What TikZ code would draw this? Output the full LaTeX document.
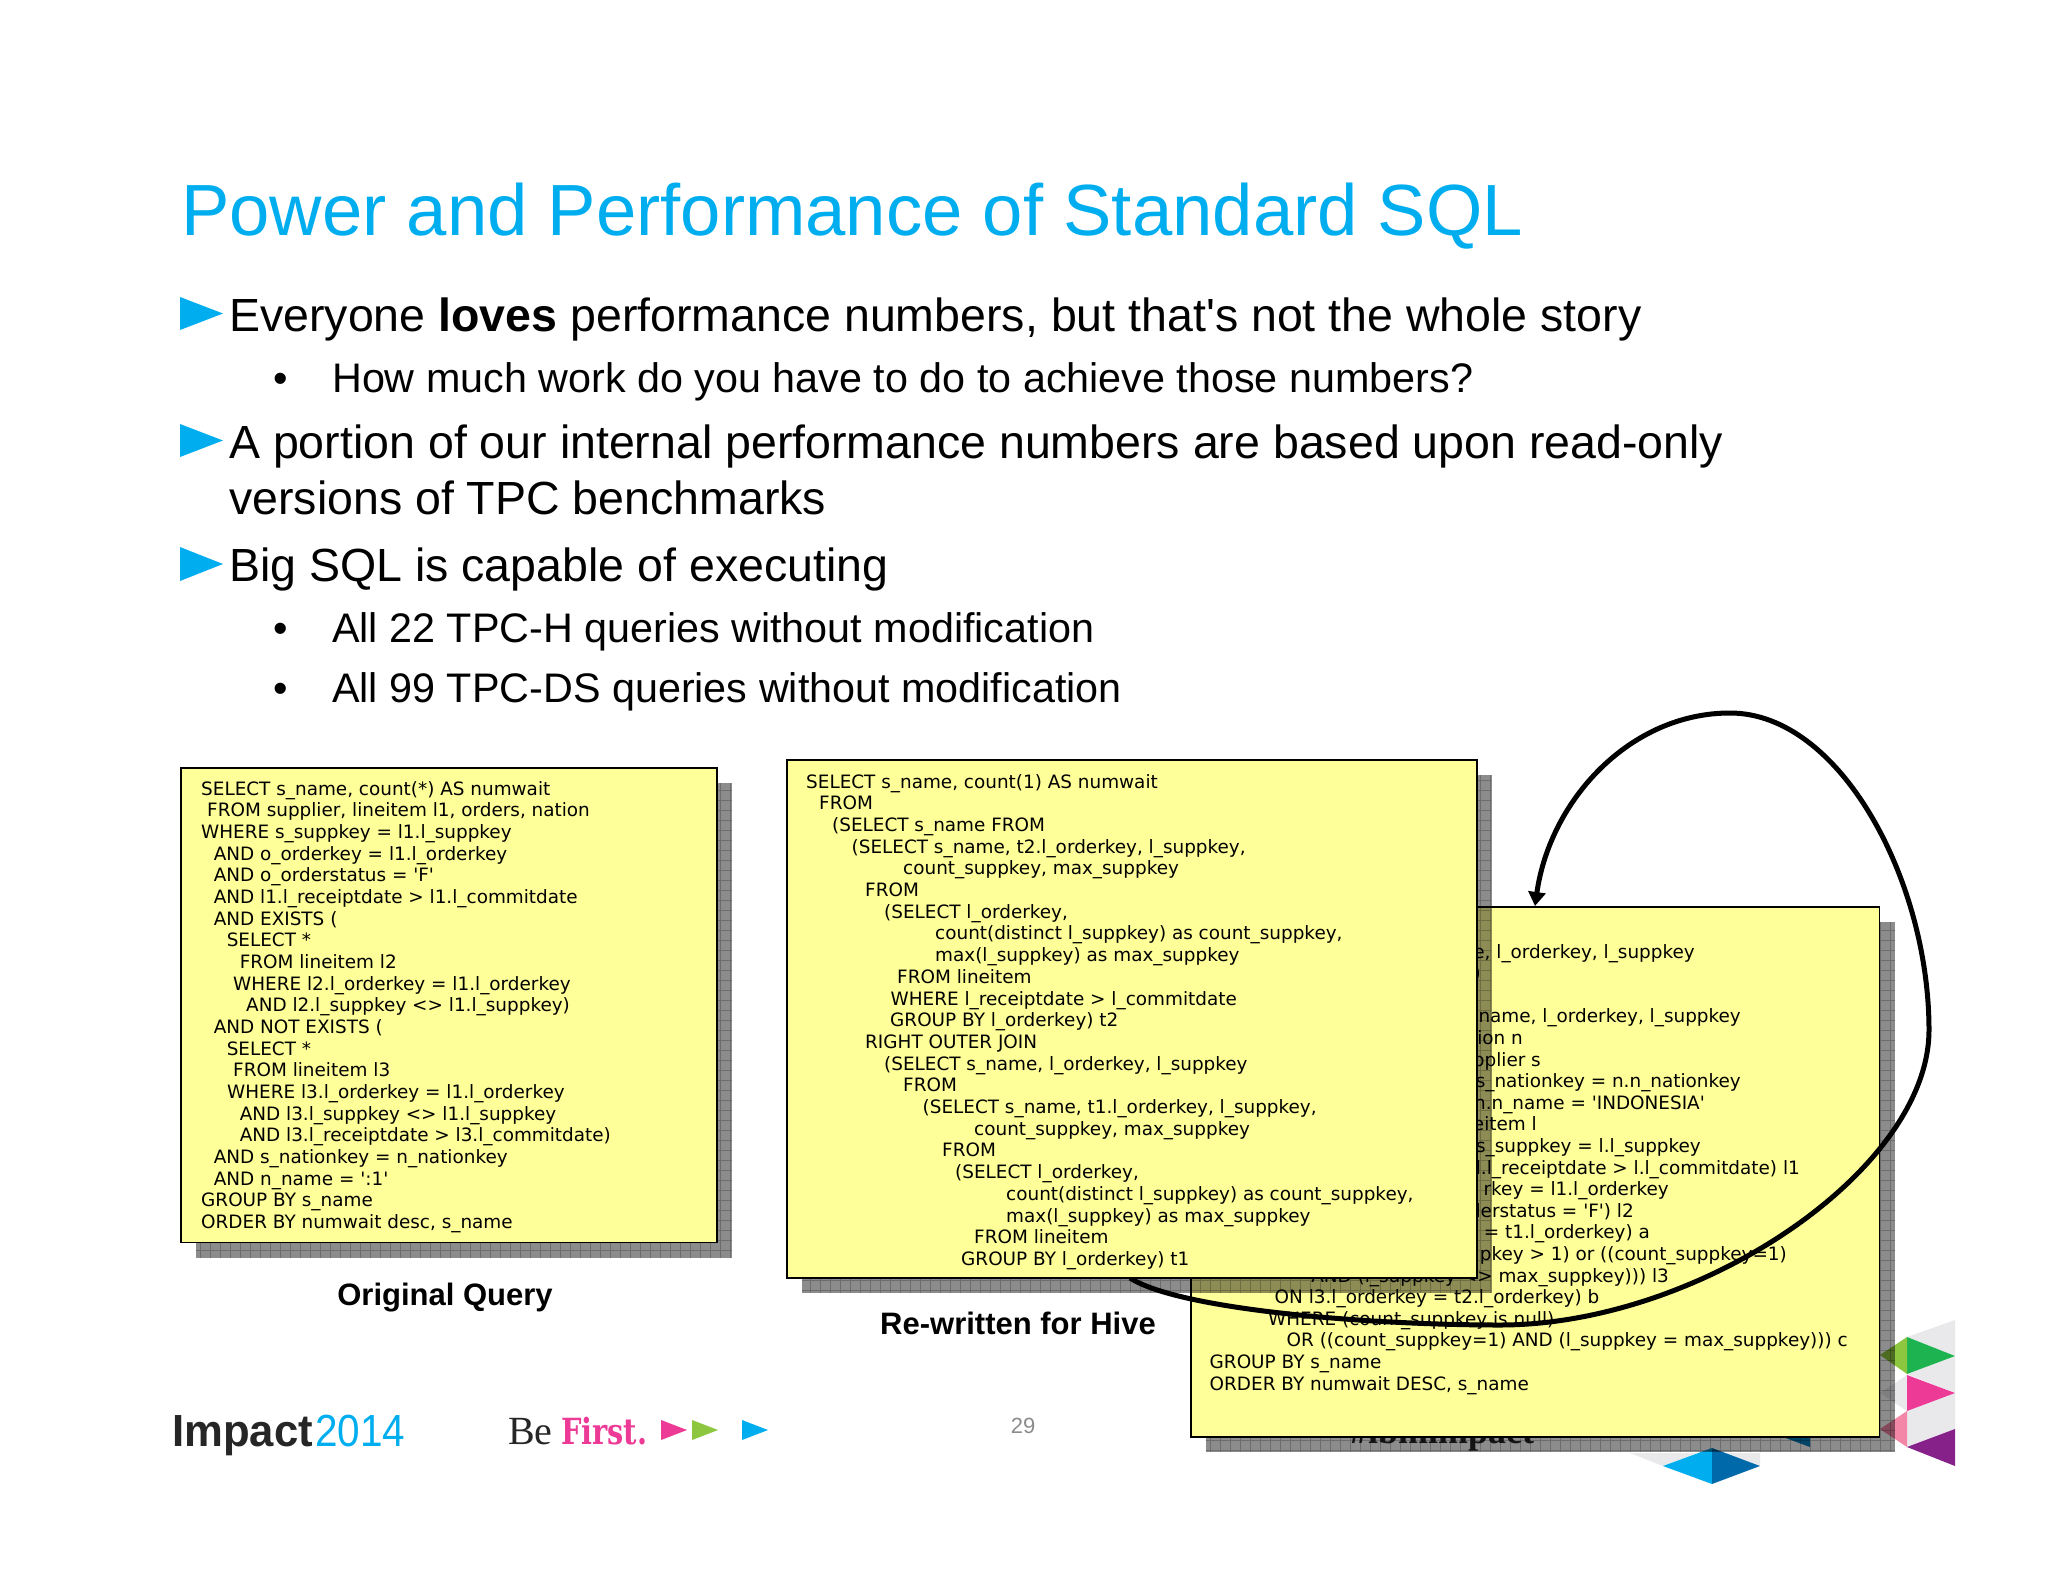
\documentclass[tikz,border=0pt]{standalone}
\usepackage{fontspec}
\setmainfont{Liberation Sans}
\newfontfamily\vd{DejaVu Sans}
\newfontfamily\lserif{Liberation Serif}
\newfontfamily\dserif{DejaVu Serif}
\usetikzlibrary{arrows.meta}
\definecolor{ibmblue}{HTML}{00AEEF}
\definecolor{ibmdblue}{HTML}{0069AA}
\definecolor{boxy}{HTML}{FFFF99}
\definecolor{lgray}{HTML}{E9E9EB}
\definecolor{ipink}{HTML}{EC3A96}
\definecolor{ipale}{HTML}{F287A8}
\definecolor{igreen}{HTML}{1DB350}
\definecolor{ilime}{HTML}{8DC63F}
\definecolor{ipurple}{HTML}{86218A}
\tikzset{
  titletext/.style={anchor=base west,inner sep=0pt,text=ibmblue,font=\fontsize{72.5}{80}\selectfont},
  mainbullet/.style={anchor=base west,inner sep=0pt,font=\fontsize{46.5}{52}\selectfont},
  subbullet/.style={anchor=base west,inner sep=0pt,font=\fontsize{41.3}{48}\selectfont},
  tri/.style={fill=ibmblue},
  sqlbox/.style={draw=black,line width=1.6pt,fill=boxy,inner sep=0pt,anchor=north west},
  sql/.style={inner sep=0pt,font=\vd\fontsize{18.4}{22}\selectfont},
  caption/.style={anchor=base,inner sep=0pt,font=\bfseries\fontsize{31}{36}\selectfont},
  shadowfill/.style={fill=black,opacity=.45},
  shadowgrid/.style={draw=black,opacity=.22,line width=.6pt},
  loop arrow/.style={line width=5pt,draw=black,-{Triangle[length=14pt,width=17pt]}},
}
\newcommand{\dropshade}[4]{%
  \fill[shadowfill] (#1,#2) rectangle (#3,#4);
  \begin{scope}
    \clip (#1,#2) rectangle (#3,#4);
    \draw[shadowgrid,step=10pt] (#1,#2) grid (#3,#4);
  \end{scope}}
\begin{document}
\begin{tikzpicture}[x=1pt,y=-1pt]
\useasboundingbox (0,0) rectangle (2048,1582);
\fill[white] (0,0) rectangle (2048,1582);

% title and bullets
\node[titletext] (title) at (181,235) {Power and Performance of Standard SQL};
\fill[tri] (180,297) -- (223,313.5) -- (180,330) -- cycle;
\fill[tri] (180,424) -- (223,440.5) -- (180,457) -- cycle;
\fill[tri] (180,547) -- (223,564) -- (180,581) -- cycle;
\node[mainbullet] (m1) at (229,331) {Everyone \textbf{loves} performance numbers, but that\textquotesingle s not the whole story};
\node[subbullet] (d1) at (273,392) {•};
\node[subbullet] (s1) at (332,392) {How much work do you have to do to achieve those numbers?};
\node[mainbullet] (m2) at (229,458) {A portion of our internal performance numbers are based upon read-only};
\node[mainbullet] (m2b) at (229,514) {versions of TPC benchmarks};
\node[mainbullet] (m3) at (229,581) {Big SQL is capable of executing};
\node[subbullet] (d2) at (273,642) {•};
\node[subbullet] (s2) at (332,642) {All 22 TPC-H queries without modification};
\node[subbullet] (d3) at (273,702) {•};
\node[subbullet] (s3) at (332,702) {All 99 TPC-DS queries without modification};

% footer
\node[anchor=base west,inner sep=0pt,xscale=.97,font=\bfseries\fontsize{45}{50}\selectfont,text=black!85] (imp) at (172,1446) {Impact};
\node[anchor=base west,inner sep=0pt,xscale=.9,font=\fontsize{45}{50}\selectfont,text=ibmblue] (yr) at (315,1446) {2014};
\node[anchor=base west,inner sep=0pt,font=\lserif\fontsize{40}{44}\selectfont,text=black!85] (be) at (508,1444) {Be};
\node[anchor=base west,inner sep=0pt,xscale=.8,font=\dserif\bfseries\fontsize{36}{40}\selectfont,text=ipink] (first) at (561,1444) {First.};
\fill[ipink] (661,1420) -- (687,1430) -- (661,1440) -- cycle;
\fill[ilime] (692,1420) -- (718,1430) -- (692,1440) -- cycle;
\fill[ibmblue] (742,1420) -- (768,1430) -- (742,1440) -- cycle;
\node[inner sep=0pt,font=\fontsize{22}{26}\selectfont,text=black!45] (pg) at (1023,1426) {29};
\node[anchor=base,inner sep=0pt,font=\lserif\bfseries\fontsize{36}{42}\selectfont,text=black!85] (tag) at (1442,1443) {\#ibmimpact};

% corner ornaments
\fill[lgray] (1907,1337) -- (1955,1320) -- (1955,1356) -- cycle;
\fill[lgray] (1907,1374) -- (1955,1356) -- (1955,1393) -- cycle;
\fill[lgray] (1907,1375) -- (1907,1411) -- (1880,1393) -- cycle;
\fill[lgray] (1907,1411) -- (1955,1393) -- (1955,1429) -- (1907,1447) -- cycle;
\fill[igreen] (1907,1337) -- (1955,1356) -- (1907,1374) -- cycle;
\fill[ilime] (1907,1337) -- (1907,1374) -- (1880,1355) -- cycle;
\fill[ipink] (1907,1375) -- (1955,1393) -- (1907,1411) -- cycle;
\fill[ipale] (1907,1411) -- (1907,1447) -- (1880,1429) -- cycle;
\fill[ipurple] (1907,1447) -- (1955,1429) -- (1955,1466) -- cycle;
\fill[lgray] (1630,1453) -- (1663,1466) -- (1711,1448) -- (1760,1466) -- (1760,1453) -- cycle;
\fill[ibmblue] (1663,1466) -- (1712,1448) -- (1712,1484) -- cycle;
\fill[ibmdblue] (1712,1448) -- (1760,1466) -- (1712,1484) -- cycle;
\fill[ibmdblue!70!ibmblue] (1783,1437) -- (1810,1437) -- (1810,1447) -- cycle;

% original query
\dropshade{196}{783}{732}{1258}
\node[sqlbox,minimum width=536pt,minimum height=474.5pt] (box1) at (180,767) {};
\foreach \x/\t [count=\i] in {
 201/{SELECT s\_name, count(*) AS numwait},
 207/{FROM supplier, lineitem l1, orders, nation},
 201/{WHERE s\_suppkey = l1.l\_suppkey},
 213.6/{AND o\_orderkey = l1.l\_orderkey},
 213.6/{AND o\_orderstatus = 'F'},
 213.6/{AND l1.l\_receiptdate > l1.l\_commitdate},
 213.6/{AND EXISTS (},
 226.6/{SELECT *},
 239.6/{FROM lineitem l2},
 233/{WHERE l2.l\_orderkey = l1.l\_orderkey},
 246/{AND l2.l\_suppkey <> l1.l\_suppkey)},
 213.6/{AND NOT EXISTS (},
 226.6/{SELECT *},
 233/{FROM lineitem l3},
 227/{WHERE l3.l\_orderkey = l1.l\_orderkey},
 239.6/{AND l3.l\_suppkey <> l1.l\_suppkey},
 239.6/{AND l3.l\_receiptdate > l3.l\_commitdate)},
 213.6/{AND s\_nationkey = n\_nationkey},
 213.6/{AND n\_name = ':1'},
 201/{GROUP BY s\_name},
 201/{ORDER BY numwait desc, s\_name}}
 {\node[sql,anchor=base west] (a\i) at (\x,{795.3+21.65*(\i-1)}) {\t};}
\node[caption] (cap1) at (445,1305) {Original Query};
\node[caption] (cap2) at (1018,1334) {Re-written for Hive};

% third box
\dropshade{1205.5}{922}{1895}{1452}
\node[sqlbox,minimum width=688.5pt,minimum height=530pt] (box3) at (1190,906) {};
\foreach \x/\y/\t [count=\i] in {
 1695/958/{e, l\_orderkey, l\_suppkey},
 1481/979.6/{)},
 1741/1022.8/{name, l\_orderkey, l\_suppkey},
 1523/1044.4/{tion n},
 1541/1066/{pplier s},
 1741/1087.6/{s\_nationkey = n.n\_nationkey},
 1705/1109.2/{n.n\_name = 'INDONESIA'},
 1537/1130.8/{eitem l},
 1701/1152.4/{s\_suppkey = l.l\_suppkey},
 1800/1174/{l.l\_receiptdate > l.l\_commitdate) l1},
 1669/1195.6/{rkey = l1.l\_orderkey},
 1634/1217.2/{lerstatus = 'F') l2},
 1650/1238.8/{= t1.l\_orderkey) a},
 1787/1260.4/{pkey > 1) or ((count\_suppkey=1)},
 1669/1282/{AND (l\_suppkey <> max\_suppkey))) l3}}
 {\node[sql,anchor=base east] (c\i) at (\x,\y) {\t};}
\foreach \x/\y/\t [count=\i] in {
 1274.5/1303.6/{ON l3.l\_orderkey = t2.l\_orderkey) b},
 1268/1325.2/{WHERE (count\_suppkey is null)},
 1286.5/1346.8/{OR ((count\_suppkey=1) AND (l\_suppkey = max\_suppkey))) c},
 1209.5/1368.4/{GROUP BY s\_name},
 1209.5/1390/{ORDER BY numwait DESC, s\_name}}
 {\node[sql,anchor=base west] (d\i) at (\x,\y) {\t};}

% loop
\coordinate (cstart) at (1130,1278);
\coordinate (ctip) at (box3.north west -| 1535,0);
\draw[loop arrow] (cstart) .. controls (1180,1310) and (1370,1325) .. (1500,1325)
  .. controls (1700,1325) and (1929,1170) .. (1929,1030)
  .. controls (1929,880) and (1840,713) .. (1730,713)
  .. controls (1630,713) and (1550,800) .. (ctip);

% rewritten
\dropshade{802}{775}{1491.5}{1293}
\node[sqlbox,minimum width=690pt,minimum height=518pt] (box2) at (786,759) {};
\foreach \x/\t [count=\i] in {
 806/{SELECT s\_name, count(1) AS numwait},
 819/{FROM},
 832/{(SELECT s\_name FROM},
 851.5/{(SELECT s\_name, t2.l\_orderkey, l\_suppkey,},
 903/{count\_suppkey, max\_suppkey},
 865/{FROM},
 884/{(SELECT l\_orderkey,},
 935/{count(distinct l\_suppkey) as count\_suppkey,},
 935/{max(l\_suppkey) as max\_suppkey},
 897/{FROM lineitem},
 890.5/{WHERE l\_receiptdate > l\_commitdate},
 890/{GROUP BY l\_orderkey) t2},
 865/{RIGHT OUTER JOIN},
 884/{(SELECT s\_name, l\_orderkey, l\_suppkey},
 903/{FROM},
 922.5/{(SELECT s\_name, t1.l\_orderkey, l\_suppkey,},
 974/{count\_suppkey, max\_suppkey},
 942/{FROM},
 955/{(SELECT l\_orderkey,},
 1006/{count(distinct l\_suppkey) as count\_suppkey,},
 1006/{max(l\_suppkey) as max\_suppkey},
 974/{FROM lineitem},
 961/{GROUP BY l\_orderkey) t1}}
 {\node[sql,anchor=base west] (b\i) at (\x,{788+21.7*(\i-1)}) {\t};}
\end{tikzpicture}
\end{document}
